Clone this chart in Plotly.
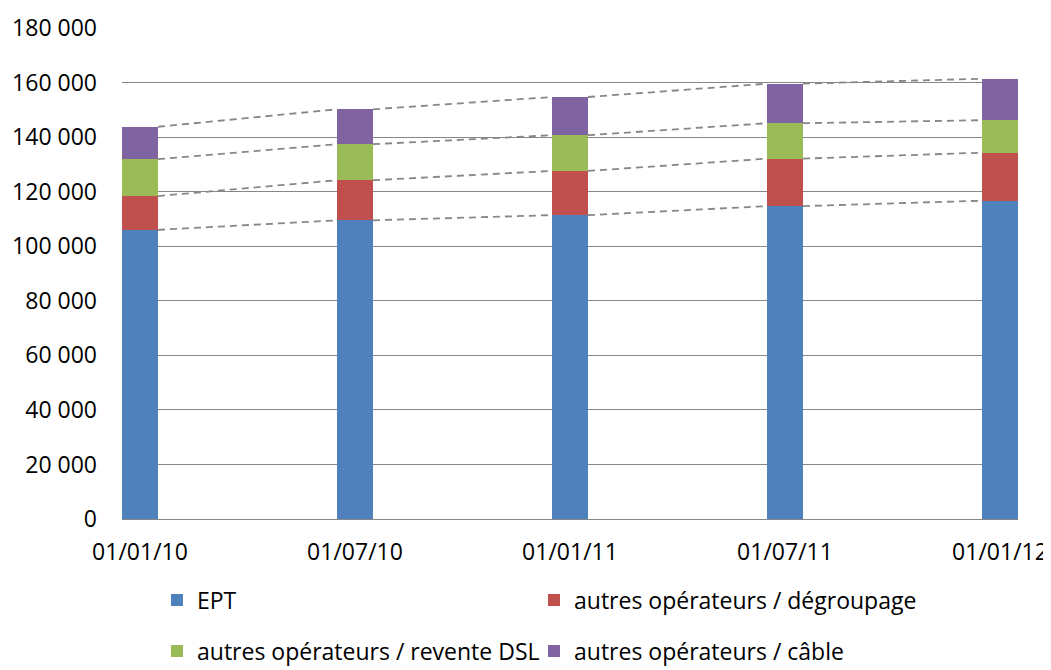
import plotly.graph_objects as go

tick_labels = ["01/01/10", "01/07/10", "01/01/11", "01/07/11", "01/01/12"]
ept = [106000, 109500, 111400, 114700, 116700]
degroupage = [12400, 14700, 16200, 17400, 17600]
revente = [13500, 13200, 13100, 13000, 11900]
cable = [11900, 12800, 14000, 14500, 15200]

series_names = ["EPT", "autres opérateurs / dégroupage",
                "autres opérateurs / revente DSL", "autres opérateurs / câble"]
series_vals = [ept, degroupage, revente, cable]
series_colors = ["#4F81BD", "#C0504D", "#9BBB59", "#8064A2"]
legend_ids = ["legend", "legend2", "legend3", "legend4"]

FONT = "Open Sans"
FS = 23
W, H = 1043, 662  # page body has an 8px margin
bar_w = 36 / 215
xs = list(range(len(tick_labels)))

fig = go.Figure()
for name, vals, color, lg in zip(series_names, series_vals, series_colors, legend_ids):
    fig.add_trace(go.Bar(
        x=xs, y=vals, name=name, width=bar_w,
        marker=dict(color=color, line=dict(width=0)),
        legend=lg,
    ))

# dashed series lines connecting stacked tops
cum = [0] * len(xs)
for vals in series_vals:
    cum = [c + v for c, v in zip(cum, vals)]
    lx, ly = [], []
    for i in range(len(xs) - 1):
        lx += [xs[i] + bar_w / 2, xs[i + 1] - bar_w / 2, None]
        ly += [cum[i], cum[i + 1], None]
    fig.add_trace(go.Scatter(
        x=lx, y=ly, mode="lines", showlegend=False, hoverinfo="skip",
        line=dict(color="#878787", width=1.8, dash="7px,5px"),
    ))

legend_common = dict(
    orientation="h", xref="container", xanchor="left",
    yref="container", yanchor="middle",
    font=dict(family=FONT, size=FS),
    bgcolor="rgba(0,0,0,0)", itemclick=False,
)
col_x = [149, 526, 149, 526]
row_y = [592, 592, 643, 643]
legends = {
    lg: dict(legend_common, x=cx / W, y=1 - ry / H)
    for lg, cx, ry in zip(legend_ids, col_x, row_y)
}

fig.update_layout(
    barmode="stack",
    width=W, height=H,
    margin=dict(l=114, r=33, t=20, b=151, autoexpand=False),
    paper_bgcolor="white", plot_bgcolor="white",
    separators=", ",
    font=dict(family=FONT, size=FS, color="black"),
    xaxis=dict(
        range=[-bar_w / 2, xs[-1] + bar_w / 2],
        tickvals=xs, ticktext=tick_labels,
        showgrid=False, zeroline=False,
        showline=True, linecolor="#878787", linewidth=1.3,
        ticks="", ticklabelstandoff=12,
        tickfont=dict(family=FONT, size=FS),
    ),
    yaxis=dict(
        range=[0, 180000], tickvals=list(range(0, 180001, 20000)),
        tickformat=",d",
        showgrid=True, gridcolor="#878787", gridwidth=1.3,
        zeroline=False, showline=False, ticks="",
        ticklabelstandoff=24,
        tickfont=dict(family=FONT, size=FS),
    ),
    **legends,
)

fig.write_html("out.html")
